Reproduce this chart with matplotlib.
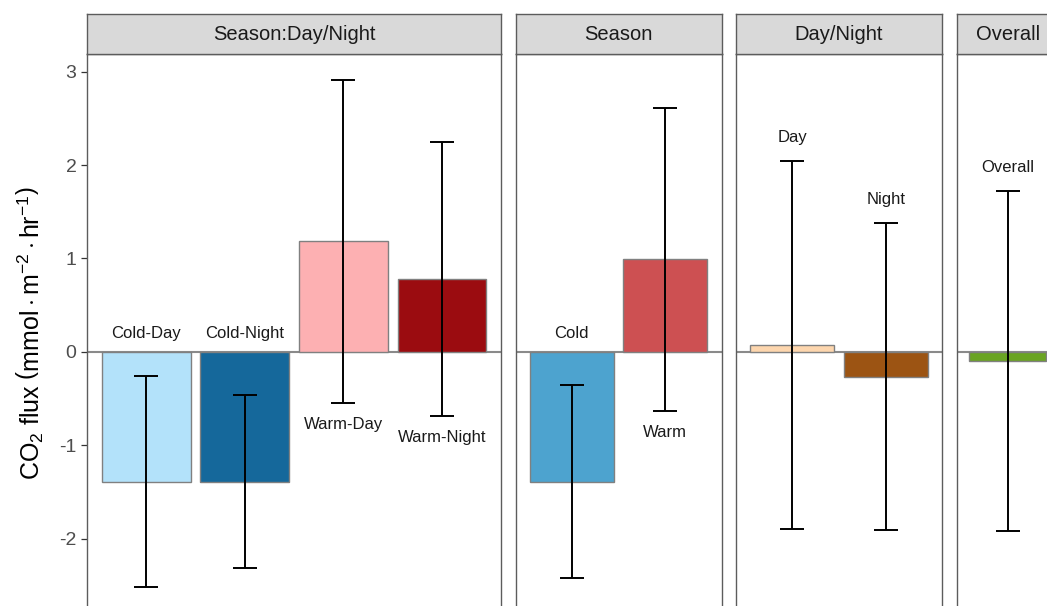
import matplotlib
matplotlib.use("Agg")
import matplotlib.pyplot as plt

plt.rcParams["font.family"] = ["Liberation Sans", "DejaVu Sans"]
plt.rcParams["mathtext.fontset"] = "custom"
plt.rcParams["mathtext.rm"] = "Liberation Sans"
plt.rcParams["mathtext.it"] = "Liberation Sans:italic"
plt.rcParams["mathtext.bf"] = "Liberation Sans:bold"

# ---------------------------------------------------------------------------
# Mean CO2 flux and error half-widths per grouping
# ---------------------------------------------------------------------------
facet_titles = ["Season:Day/Night", "Season", "Day/Night", "Overall"]

sd_labels = ["Cold-Day", "Cold-Night", "Warm-Day", "Warm-Night"]
sd_means = [-1.39, -1.39, 1.185, 0.78]
sd_errs = [1.13, 0.925, 1.73, 1.465]

season_labels = ["Cold", "Warm"]
season_means = [-1.39, 0.99]
season_errs = [1.03, 1.62]

dn_labels = ["Day", "Night"]
dn_means = [0.078, -0.265]
dn_errs = [1.97, 1.645]

overall_labels = ["Overall"]
overall_means = [-0.095]
overall_errs = [1.82]

sd_colors = ["#B3E2FA", "#15689B", "#FDB0B2", "#9B0C10"]
season_colors = ["#4DA3CF", "#CD5052"]
dn_colors = ["#FDD6AE", "#9C5413"]
overall_colors = ["#6AA422"]

panels = [
    (sd_labels, sd_means, sd_errs, sd_colors),
    (season_labels, season_means, season_errs, season_colors),
    (dn_labels, dn_means, dn_errs, dn_colors),
    (overall_labels, overall_means, overall_errs, overall_colors),
]

W, H = 1047, 606
# panel left/right edges in pixels (last panel runs off the canvas)
panel_x = [(87, 501), (515.5, 721.5), (736, 942), (956.5, 1059)]
panel_top, panel_bot = 54, 612.4
strip_top = 14

BORDER = "#5c5c5c"
YLIM = (-2.79, 3.19)

fig = plt.figure(figsize=(W / 100, H / 100), dpi=100)
fig.patch.set_facecolor("white")

first_ax = None
for (x0, x1), title, (labels, means, errs, colors) in zip(panel_x, facet_titles, panels):
    ax = fig.add_axes([x0 / W, (H - panel_bot) / H, (x1 - x0) / W, (panel_bot - panel_top) / H])
    n = len(labels)
    xs = list(range(1, n + 1))

    ax.axhline(0, color="#8a8a8a", lw=1.5, zorder=1)
    ax.bar(xs, means, width=0.9, color=colors, edgecolor="#808080", linewidth=1.0, zorder=2)
    ax.errorbar(xs, means, yerr=errs, fmt="none", ecolor="black", elinewidth=1.4,
                capsize=8.3, capthick=1.4, zorder=3)

    for x, lab, m, e in zip(xs, labels, means, errs):
        lo, hi = m - e, m + e
        if hi < 0:
            y = 0.2
        elif m > 0.5:
            y = lo - 0.23
        else:
            y = hi + 0.25
        ax.text(x, y, lab, ha="center", va="center", fontsize=12, color="#1a1a1a", zorder=4)

    ax.set_xlim(0.4, n + 0.6)
    ax.set_ylim(*YLIM)
    ax.set_xticks([])
    for sp in ax.spines.values():
        sp.set_color(BORDER)
        sp.set_linewidth(1.0)

    if first_ax is None:
        first_ax = ax
        ax.set_yticks([-2, -1, 0, 1, 2, 3])
        ax.set_yticklabels(["-2", "-1", "0", "1", "2", "3"])
        ax.tick_params(axis="y", length=4.5, width=0.9, color="#333333",
                       labelsize=14, labelcolor="#4d4d4d", pad=3)
    else:
        ax.set_yticks([])

    # facet strip
    sax = fig.add_axes([x0 / W, (H - panel_top) / H, (x1 - x0) / W, (panel_top - strip_top) / H])
    sax.set_facecolor("#D9D9D9")
    sax.set_xticks([])
    sax.set_yticks([])
    for sp in sax.spines.values():
        sp.set_color(BORDER)
        sp.set_linewidth(1.0)
    sax.text(0.5, 0.5, title, transform=sax.transAxes, ha="center", va="center",
             fontsize=14.5, color="#1a1a1a")

fig.text(30 / W, 1 - ((panel_top + panel_bot) / 2) / H,
         r"CO$_2$ flux $\left(\mathrm{mmol}\cdot\mathrm{m}^{-2}\cdot\mathrm{hr}^{-1}\right)$",
         rotation=90, ha="center", va="center", fontsize=18, color="black")

fig.savefig("out.png", dpi=100, facecolor="white")
